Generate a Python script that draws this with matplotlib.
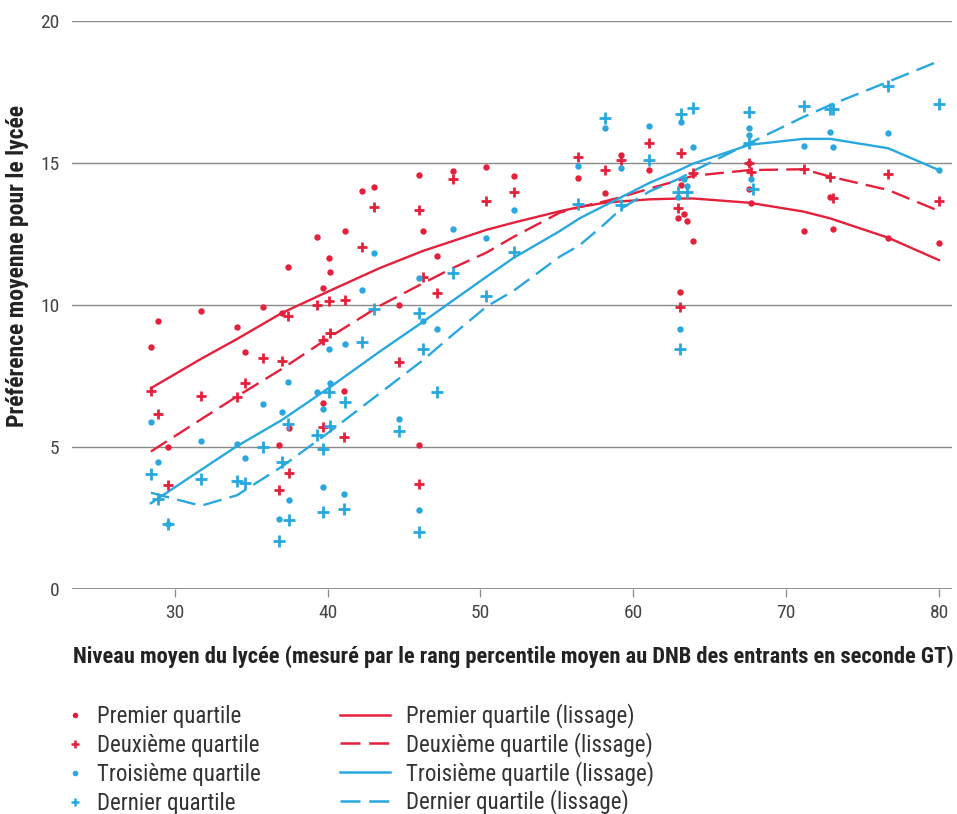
import matplotlib
matplotlib.use("Agg")
import matplotlib.pyplot as plt
from matplotlib import font_manager
from matplotlib.lines import Line2D

# ---------------- data ----------------
x_q1 = [28.44, 28.93, 29.58, 31.73, 34.05, 34.63, 35.76, 36.79, 37.01, 37.44, 37.48,
        39.31, 39.67, 39.72, 40.08, 40.14, 41.06, 41.14, 42.24, 43.04, 44.70, 45.98,
        45.98, 46.24, 47.14, 48.20, 50.39, 52.19, 56.40, 58.12, 59.21, 61.06, 62.91,
        63.07, 63.13, 63.35, 63.54, 63.92, 67.60, 67.60, 67.71, 71.14, 72.86, 73.04,
        76.68, 79.99]
y_q1 = [8.52, 9.44, 5.01, 9.78, 9.24, 8.36, 9.92, 5.08, 9.73, 11.34, 5.66,
        12.39, 10.60, 6.54, 11.64, 11.15, 6.96, 12.62, 14.01, 14.17, 10.01, 14.57,
        5.06, 12.62, 11.73, 14.73, 14.87, 14.55, 14.46, 13.96, 15.28, 14.75, 13.07,
        10.47, 14.23, 13.20, 12.97, 12.26, 15.01, 14.08, 13.58, 12.62, 13.79, 12.68,
        12.37, 12.17]

x_q2 = [28.44, 28.93, 29.58, 31.73, 34.05, 34.63, 35.76, 36.79, 37.01, 37.44, 37.48,
        39.31, 39.67, 39.72, 40.08, 40.14, 41.06, 41.14, 42.24, 43.04, 44.70, 45.98,
        45.98, 46.24, 47.14, 48.20, 50.39, 52.19, 56.40, 58.12, 59.21, 61.06, 62.91,
        63.07, 63.13, 63.92, 67.60, 67.71, 71.14, 72.86, 73.04, 76.68, 79.99]
y_q2 = [6.98, 6.16, 3.65, 6.80, 6.75, 7.24, 8.12, 3.50, 8.04, 9.62, 4.07,
        10.00, 8.77, 5.72, 10.14, 9.00, 5.34, 10.19, 12.05, 13.46, 8.00, 13.33,
        3.69, 10.97, 10.43, 14.44, 13.66, 13.97, 15.20, 14.77, 15.11, 15.72, 13.40,
        9.94, 15.36, 14.66, 15.01, 14.70, 14.78, 14.52, 13.77, 14.60, 13.67]

x_q3 = [28.44, 28.93, 29.58, 31.73, 34.05, 34.63, 35.76, 36.79, 37.01, 37.44, 37.48,
        39.31, 39.67, 39.72, 40.08, 40.14, 41.06, 41.14, 42.24, 43.04, 44.70, 45.98,
        45.98, 46.24, 47.14, 48.20, 50.39, 52.19, 56.40, 58.12, 59.21, 61.06, 62.91,
        63.07, 63.13, 63.35, 63.54, 63.92, 67.60, 67.60, 67.71, 71.14, 72.86, 73.04,
        76.68, 79.99]
y_q3 = [5.88, 4.48, 2.30, 5.22, 5.11, 4.61, 6.52, 2.46, 6.24, 7.29, 3.13,
        6.92, 6.35, 3.59, 8.45, 7.26, 3.33, 8.63, 10.54, 11.83, 6.00, 10.95,
        2.78, 9.43, 9.17, 12.68, 12.35, 13.33, 14.91, 16.22, 14.84, 16.30, 13.82,
        9.14, 16.43, 14.44, 14.20, 15.58, 16.22, 15.99, 14.44, 15.60, 16.09, 15.55,
        16.04, 14.75]

x_q4 = [28.44, 28.93, 29.58, 31.73, 34.05, 34.63, 35.76, 36.79, 37.01, 37.44, 37.48,
        39.31, 39.67, 39.72, 40.08, 40.14, 41.06, 41.14, 42.24, 43.04, 44.70, 45.98,
        45.98, 46.24, 47.14, 48.20, 50.39, 52.19, 56.40, 58.12, 59.21, 61.06, 62.91,
        63.07, 63.13, 63.54, 63.92, 67.60, 67.60, 67.80, 71.14, 72.86, 73.04, 76.68,
        79.99]
y_q4 = [4.05, 3.16, 2.28, 3.87, 3.80, 3.74, 4.99, 1.70, 4.47, 5.80, 2.43,
        5.42, 4.93, 2.72, 6.92, 5.74, 2.81, 6.60, 8.71, 9.87, 5.57, 9.71,
        2.00, 8.44, 6.95, 11.12, 10.31, 11.86, 13.56, 16.57, 13.52, 15.11, 13.99,
        8.44, 16.73, 13.99, 16.92, 16.78, 15.69, 14.08, 17.02, 16.90, 16.90, 17.71,
        17.06]

x_smooth = [28.44, 31.71, 34.07, 37.01, 40.14, 43.41, 46.22, 48.18, 50.41, 52.17,
            55.18, 56.48, 58.12, 59.23, 61.06, 63.01, 63.93, 67.60, 71.13, 72.88,
            76.67, 80.00]
s_q1 = [7.07, 8.10, 8.80, 9.72, 10.50, 11.30, 11.90, 12.25, 12.65, 12.90,
        13.30, 13.45, 13.60, 13.65, 13.72, 13.75, 13.75, 13.60, 13.29, 13.05,
        12.37, 11.58]
s_q2 = [4.84, 5.97, 6.78, 7.75, 8.87, 9.97, 10.76, 11.30, 11.85, 12.40,
        13.25, 13.45, 13.65, 13.80, 14.10, 14.40, 14.55, 14.75, 14.78, 14.52,
        14.05, 13.31]
s_q3 = [3.02, 4.19, 5.03, 5.95, 7.10, 8.36, 9.40, 10.15, 11.00, 11.66,
        12.60, 13.05, 13.50, 13.80, 14.30, 14.75, 14.98, 15.64, 15.85, 15.85,
        15.52, 14.75]
s_q4 = [3.39, 2.93, 3.30, 4.31, 5.54, 6.89, 8.05, 8.95, 9.95, 10.50,
        11.70, 12.10, 12.85, 13.40, 14.00, 14.45, 14.72, 15.70, 16.62, 17.04,
        17.86, 18.59]

x_ticks = [30, 40, 50, 60, 70, 80]
y_ticks = [0, 5, 10, 15, 20]

labels_pts = ["Premier quartile", "Deuxième quartile", "Troisième quartile", "Dernier quartile"]
labels_lines = [l + " (lissage)" for l in labels_pts]
x_label = "Niveau moyen du lycée (mesuré par le rang percentile moyen au DNB des entrants en seconde GT)"
y_label = "Préférence moyenne pour le lycée"

# ---------------- style ----------------
RED = "#E5203B"
BLUE = "#29A8E0"
GRID = "#8a8a8a"

# look for a condensed face among the installed families
ttf = font_manager.fontManager.ttflist
fam, stretch = "Roboto", "normal"
cond_names = {f.name for f in ttf
              if str(f.stretch) in ("condensed", "semi-condensed", "extra-condensed")
              or "Condensed" in f.name or "Narrow" in f.name}
for cand in ["Roboto Condensed", "Liberation Sans Narrow", "Open Sans Condensed",
             "Noto Sans Condensed", "DejaVu Sans Condensed", "Roboto", "Noto Sans",
             "Open Sans", "DejaVu Sans"]:
    if cand in cond_names:
        fam = cand
        break
    hits = [f for f in ttf if f.name == cand and str(f.stretch) in
            ("condensed", "semi-condensed")]
    if hits:
        fam, stretch = cand, str(hits[0].stretch)
        break
plt.rcParams["font.family"] = [fam, "DejaVu Sans"]
plt.rcParams["font.stretch"] = stretch

fs_tick = 14
fs_xlab = 16.2
fs_ylab = 17
fs_leg = 16.5

fig = plt.figure(figsize=(9.57, 8.14), dpi=100)
ax = fig.add_axes([72 / 957, 1 - 589 / 814, (952 - 72) / 957, (589 - 21) / 814])

ax.set_xlim(23.28, 80.85)
ax.set_ylim(0, 20)

for s in ax.spines.values():
    s.set_visible(False)
ax.set_yticks(y_ticks)
ax.set_xticks(x_ticks)
ax.yaxis.grid(True, color=GRID, lw=1.0)
ax.set_axisbelow(True)
ax.tick_params(axis="y", length=0, pad=9, labelsize=fs_tick, labelcolor="#444444")
ax.tick_params(axis="x", length=6, width=0.9, color=GRID, pad=5, labelsize=fs_tick,
               labelcolor="#444444")
ax.axhline(0, color="#777777", lw=1.1, zorder=1)

dashes = (8, 3.5)
ax.plot(x_smooth, s_q1, color=RED, lw=1.7, zorder=3)
ax.plot(x_smooth, s_q2, color=RED, lw=1.7, dashes=dashes, zorder=3)
ax.plot(x_smooth, s_q3, color=BLUE, lw=1.7, zorder=3)
ax.plot(x_smooth, s_q4, color=BLUE, lw=1.7, dashes=dashes, zorder=3)

ax.plot(x_q1, y_q1, "o", color=RED, ms=4.6, mew=0, zorder=4)
ax.plot(x_q2, y_q2, "+", color=RED, ms=7.5, mew=2.0, zorder=4)
ax.plot(x_q3, y_q3, "o", color=BLUE, ms=4.6, mew=0, zorder=4)
ax.plot(x_q4, y_q4, "+", color=BLUE, ms=8.5, mew=2.0, zorder=4)

fig.text(0.0185, 1 - 266 / 814, y_label, rotation=90, ha="center", va="center",
         fontsize=fs_ylab, fontweight="bold", color="#222222")
fig.text((72 + 954) / 2 / 957, 1 - 657 / 814, x_label, ha="center", va="center",
         fontsize=fs_xlab, fontweight="bold", color="#222222")

h_pts = [Line2D([], [], ls="none", marker="o", color=RED, ms=4, mew=0),
         Line2D([], [], ls="none", marker="+", color=RED, ms=6, mew=1.8),
         Line2D([], [], ls="none", marker="o", color=BLUE, ms=4, mew=0),
         Line2D([], [], ls="none", marker="+", color=BLUE, ms=6, mew=1.8)]
h_lines = [Line2D([], [], color=RED, lw=1.8),
           Line2D([], [], color=RED, lw=1.8, dashes=dashes),
           Line2D([], [], color=BLUE, lw=1.8),
           Line2D([], [], color=BLUE, lw=1.8, dashes=dashes)]

leg_kw = dict(frameon=False, fontsize=fs_leg, borderpad=0,
              borderaxespad=0, loc="upper left", labelcolor="#333333")
fig.legend(h_pts, labels_pts, bbox_to_anchor=(66 / 957, 1 - 705.5 / 814),
           handlelength=0.77, handletextpad=0.57, labelspacing=0.25, **leg_kw)
fig.legend(h_lines, labels_lines, bbox_to_anchor=(340 / 957, 1 - 703.5 / 814),
           handlelength=2.18, handletextpad=0.7, labelspacing=0.16, **leg_kw)

fig.savefig("out.png", dpi=100)
